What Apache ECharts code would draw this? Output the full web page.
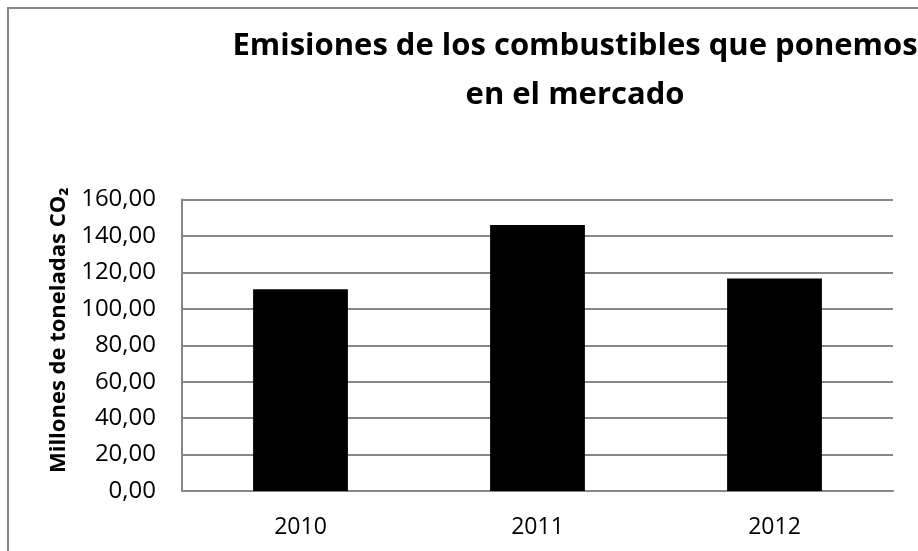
<!DOCTYPE html>
<html>
<head>
<meta charset="utf-8">
<script src="https://cdn.jsdelivr.net/npm/echarts@6/dist/echarts.min.js"></script>
<style>
  html, body { margin: 0; padding: 0; background: #fff; }
  #main { width: 918px; height: 551px; }
</style>
</head>
<body>
<div id="main"></div>
<script>
// datos
var years = ['2010', '2011', '2012']
var emisiones = [110.8, 146.0, 116.7]
var yMin = 0
var yMax = 160
var yStep = 20

var myChart = echarts.init(document.getElementById('main'))
myChart.setOption({
  animation: false,
  backgroundColor: '#fff',
  textStyle: {
    fontFamily: 'Open Sans'
  },
  title: {
    text: 'Emisiones de los combustibles que ponemos\nen el mercado',
    left: 570,
    top: 17,
    textAlign: 'center',
    textStyle: {
      fontFamily: 'Open Sans',
      fontWeight: 'bold',
      fontSize: 31,
      lineHeight: 49,
      color: '#000'
    }
  },
  graphic: [
    {
      type: 'rect',
      shape: { x: 8, y: 8, width: 1000, height: 1000 },
      style: { fill: 'none', stroke: '#868686', lineWidth: 2 },
      silent: true
    }
  ],
  grid: {
    left: 182,
    right: 25,
    top: 199.5,
    bottom: 60
  },
  xAxis: {
    type: 'category',
    data: years,
    axisLine: {
      show: true,
      lineStyle: { color: '#868686', width: 2 }
    },
    axisTick: { show: false },
    axisLabel: {
      color: '#000',
      fontSize: 23,
      margin: 25
    }
  },
  yAxis: {
    type: 'value',
    min: yMin,
    max: yMax,
    interval: yStep,
    name: 'Millones de toneladas CO₂',
    nameLocation: 'middle',
    nameRotate: 90,
    nameGap: 112,
    nameTextStyle: {
      color: '#000',
      fontWeight: 'bold',
      fontSize: 22,
      padding: [0, 0, 0, 30]
    },
    axisLine: {
      show: true,
      lineStyle: { color: '#868686', width: 2 }
    },
    axisTick: { show: false },
    axisLabel: {
      color: '#000',
      fontSize: 24,
      margin: 26,
      formatter: function (v) {
        return v.toFixed(2).replace('.', ',')
      }
    },
    splitLine: {
      show: true,
      lineStyle: { color: '#868686', width: 2 }
    }
  },
  series: [
    {
      type: 'bar',
      data: emisiones,
      barWidth: '40%',
      itemStyle: {
        color: '#000'
      }
    }
  ]
})
</script>
</body>
</html>
